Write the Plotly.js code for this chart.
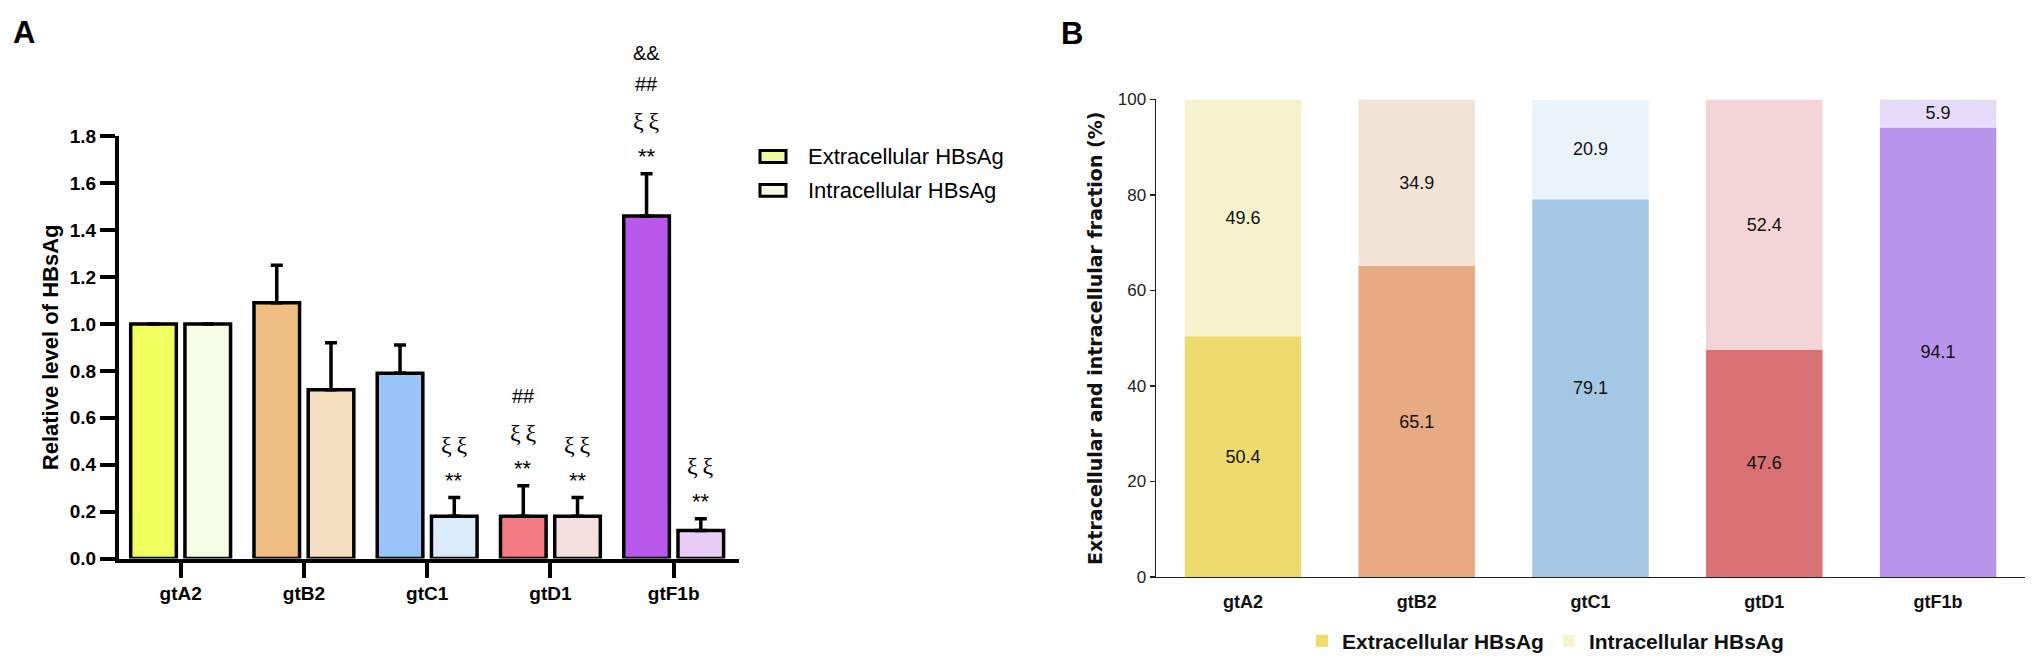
<!DOCTYPE html>
<html>
<head>
<meta charset="utf-8">
<script src="https://cdn.plot.ly/plotly-3.0.1.min.js"></script>
<style>html,body{margin:0;padding:0;background:#fff;}#chart{width:2033px;height:662px;}</style>
</head>
<body>
<div id="chart"></div>
<script>
// ---------- data ----------
const categories = ['gtA2', 'gtB2', 'gtC1', 'gtD1', 'gtF1b'];
// Panel A: relative level of HBsAg (mean, upper SD)
const relExt    = [1.00, 1.09, 0.79, 0.18, 1.46];
const relExtErr = [0.00, 0.16, 0.12, 0.13, 0.18];
const relInt    = [1.00, 0.72, 0.18, 0.18, 0.12];
const relIntErr = [0.00, 0.20, 0.08, 0.08, 0.05];
// significance marks, bottom to top
const sigExt = [[], [], [], ['**', 'ξξ', '##'], ['**', 'ξξ', '##', '&&']];
const sigInt = [[], [], ['**', 'ξξ'], ['**', 'ξξ'], ['**', 'ξξ']];
// Panel B: extracellular / intracellular fraction (%)
const fracExt = [50.4, 65.1, 79.1, 47.6, 94.1];
const fracInt = [49.6, 34.9, 20.9, 52.4, 5.9];
const seriesNames = ['Extracellular HBsAg', 'Intracellular HBsAg'];
const yTitleA = 'Relative level of HBsAg';
const yTitleB = 'Extracellular and intracellular fraction (%)';
const panelLabels = ['A', 'B'];

// ---------- style ----------
const colExtA = ['#F0FF5E', '#EEBE82', '#99C4F7', '#F47B84', '#B958EB'];
const colIntA = ['#F7FDE4', '#F6DFC1', '#DBEBF9', '#F5DFE1', '#E9CDF8'];
const colExtB = ['#EEDB6E', '#E7AA82', '#A4C7E4', '#D87074', '#B994EA'];
const colIntB = ['#F6F2CE', '#F1E4D7', '#EAF2FA', '#F3D4D7', '#E6DBFA'];
const legendSwatchA = ['#F0FA9E', '#F5FBE0'];

const SANS = 'Arial, "Liberation Sans", sans-serif';
const W = 2033, H = 662;
const px = v => v / W, py = v => 1 - v / H;

const barW_A = 0.37, ctrOff_A = 0.22;   // half-distance between grouped bar centres
const barW_B = 0.67;

const traces = [
  {
    type: 'bar', x: categories, y: relExt, xaxis: 'x', yaxis: 'y',
    name: seriesNames[0], showlegend: false,
    width: barW_A, offset: -ctrOff_A - barW_A / 2,
    marker: {color: colExtA, line: {color: '#000', width: 3.5}},
    error_y: {type: 'data', symmetric: false, array: relExtErr, arrayminus: relExtErr.map(() => 0),
              color: '#000', thickness: 3.5, width: 6}
  },
  {
    type: 'bar', x: categories, y: relInt, xaxis: 'x', yaxis: 'y',
    name: seriesNames[1], showlegend: false,
    width: barW_A, offset: ctrOff_A - barW_A / 2,
    marker: {color: colIntA, line: {color: '#000', width: 3.5}},
    error_y: {type: 'data', symmetric: false, array: relIntErr, arrayminus: relIntErr.map(() => 0),
              color: '#000', thickness: 3.5, width: 6}
  },
  {
    type: 'bar', x: categories, y: fracExt, xaxis: 'x2', yaxis: 'y2',
    name: seriesNames[0], showlegend: true,
    width: barW_B, offset: -barW_B / 2,
    marker: {color: colExtB, line: {width: 0}},
    text: fracExt.map(v => v.toFixed(1)), textposition: 'inside', insidetextanchor: 'middle',
    constraintext: 'none', textangle: 0,
    textfont: {family: SANS, size: 18, color: '#111'}
  },
  {
    type: 'bar', x: categories, y: fracInt, base: fracExt, xaxis: 'x2', yaxis: 'y2',
    name: seriesNames[1], showlegend: true,
    width: barW_B, offset: -barW_B / 2,
    marker: {color: colIntB, line: {width: 0}},
    text: fracInt.map(v => v.toFixed(1)), textposition: 'inside', insidetextanchor: 'middle',
    constraintext: 'none', textangle: 0,
    textfont: {family: SANS, size: 18, color: '#111'}
  }
];

// significance annotations
const annotations = [];
const lineShift = {'**': 17, 'ξξ': 53, '##': 90, '&&': 121};
function addSig(sigs, vals, errs, ctr) {
  sigs.forEach((list, i) => {
    list.forEach(sym => {
      const isXi = sym === 'ξξ';
      annotations.push({
        xref: 'x', yref: 'y', x: i + ctr, y: vals[i] + errs[i],
        yshift: lineShift[sym], text: isXi ? sym.split('').join('\u2009') : sym, showarrow: false,
        xanchor: 'center', yanchor: 'middle',
        font: isXi ? {family: '"Liberation Serif", "Times New Roman", serif', size: 24, color: '#000'}
                   : {family: SANS, size: sym === '**' ? 22 : 20, color: '#000'}
      });
    });
  });
}
addSig(sigExt, relExt, relExtErr, -ctrOff_A);
addSig(sigInt, relInt, relIntErr, ctrOff_A);

// panel letters
annotations.push({xref: 'paper', yref: 'paper', x: px(11), y: py(33), xanchor: 'left', yanchor: 'middle',
  text: panelLabels[0], showarrow: false, font: {family: SANS, size: 31, weight: 'bold', color: '#000'}});
annotations.push({xref: 'paper', yref: 'paper', x: px(1059), y: py(34), xanchor: 'left', yanchor: 'middle',
  text: panelLabels[1], showarrow: false, font: {family: SANS, size: 31, weight: 'bold', color: '#000'}});

// legend for panel A (boxed swatches)
const shapes = [];
[157.5, 191.5].forEach((cy, k) => {
  shapes.push({type: 'rect', xref: 'paper', yref: 'paper', x0: px(760), x1: px(786), y0: py(cy - 6), y1: py(cy + 6),
               fillcolor: legendSwatchA[k], line: {color: '#000', width: 3}});
  annotations.push({xref: 'paper', yref: 'paper', x: px(806), y: py(cy), xanchor: 'left', yanchor: 'middle',
    text: seriesNames[k], showarrow: false, font: {family: SANS, size: 22, color: '#000'}});
});

const layout = {
  width: W, height: H,
  margin: {l: 0, r: 0, t: 0, b: 0, pad: 0},
  paper_bgcolor: '#fff', plot_bgcolor: '#fff',
  barmode: 'overlay',
  hovermode: false,
  font: {family: SANS, color: '#000'},
  xaxis: {
    domain: [px(119), px(739)], anchor: 'y', type: 'category', range: [-0.5, 4.53],
    showline: true, linewidth: 4, linecolor: '#000', mirror: false,
    ticks: 'outside', ticklen: 15, tickwidth: 4, tickcolor: '#000',
    tickfont: {family: SANS, size: 19, weight: 'bold', color: '#000'},
    showgrid: false, zeroline: false, fixedrange: true
  },
  yaxis: {
    domain: [py(562), py(137)], anchor: 'x', range: [0, 1.8], dtick: 0.2, tick0: 0, tickformat: '.1f',
    showline: true, linewidth: 4, linecolor: '#000',
    ticks: 'outside', ticklen: 15, tickwidth: 4, tickcolor: '#000',
    tickfont: {family: SANS, size: 19, weight: 'bold', color: '#000'},
    showgrid: false, zeroline: false, fixedrange: true,
    title: {text: yTitleA, font: {family: SANS, size: 22, weight: 'bold', color: '#000'}, standoff: 6}
  },
  xaxis2: {
    domain: [px(1156), px(2025)], anchor: 'y2', type: 'category', range: [-0.5, 4.5],
    showline: true, linewidth: 1.5, linecolor: '#222',
    ticks: '', ticklabelstandoff: 8,
    tickfont: {family: SANS, size: 18, weight: 'bold', color: '#111'},
    showgrid: false, zeroline: false, fixedrange: true
  },
  yaxis2: {
    domain: [py(580.5), py(100)], anchor: 'x2', range: [0, 100], dtick: 20, tick0: 0,
    showline: true, linewidth: 1.5, linecolor: '#222',
    ticks: 'outside', ticklen: 5, tickwidth: 1.5, tickcolor: '#222',
    tickfont: {family: SANS, size: 17, color: '#222'},
    showgrid: false, zeroline: false, fixedrange: true,
    title: {text: yTitleB, font: {family: '"DejaVu Sans", sans-serif', size: 19, weight: 'bold', color: '#111'}, standoff: 10}
  },
  legend: {
    orientation: 'h', x: px(1302), xanchor: 'left', y: py(645), yanchor: 'middle',
    font: {family: SANS, size: 21, weight: 'bold', color: '#111'},
    bgcolor: 'rgba(0,0,0,0)', borderwidth: 0, itemclick: false, itemdoubleclick: false
  },
  annotations: annotations,
  shapes: shapes
};

Plotly.newPlot('chart', traces, layout, {displayModeBar: false, staticPlot: true});
</script>
</body>
</html>
